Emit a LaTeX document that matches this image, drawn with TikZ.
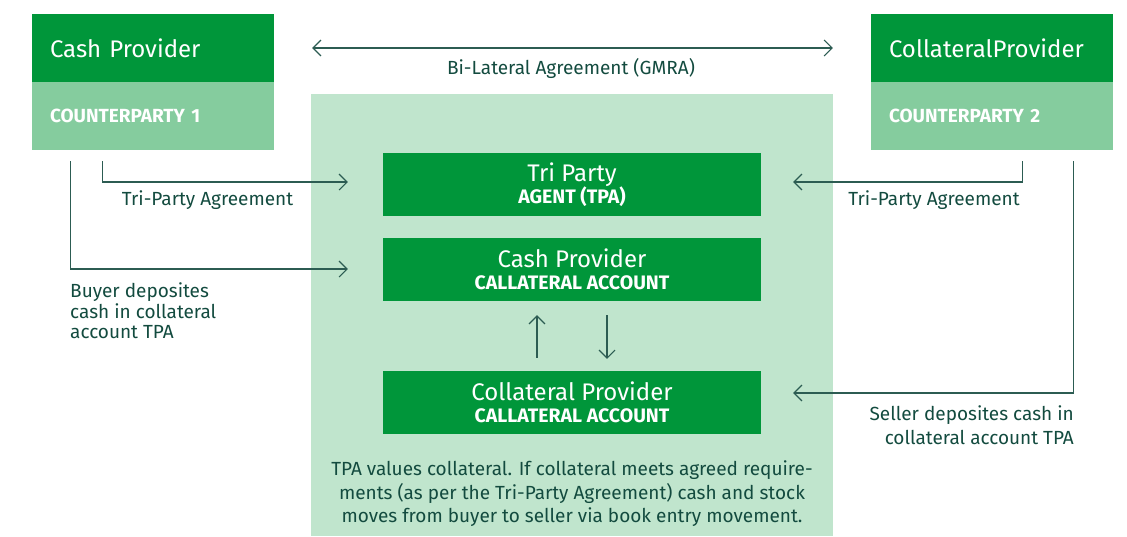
\documentclass[tikz,border=0pt]{standalone}
\usepackage{fontspec}
\setmainfont{Fira Sans}
\usetikzlibrary{arrows.meta,calc}
\definecolor{deepgreen}{HTML}{00963A}
\definecolor{midgreen}{HTML}{85CC9E}
\definecolor{panelgreen}{HTML}{C0E5CD}
\definecolor{inkgreen}{HTML}{134B3F}
\definecolor{linegreen}{HTML}{2C5C52}
\tikzset{
  x=1pt, y=1pt,
  barb/.tip={Straight Barb[length=8pt,width=16pt,line width=1.1pt]},
  headbox/.style={fill=deepgreen, text=white, minimum height=68pt, text width=206pt,
    inner xsep=18pt, inner ysep=0pt, align=left, font=\fontsize{24}{26}\selectfont},
  subbox/.style={fill=midgreen, text=white, minimum height=68pt, text width=206pt,
    inner xsep=18pt, inner ysep=0pt, align=left, font=\fontsize{19}{20}\selectfont\bfseries},
  acctbox/.style={fill=deepgreen, text=white, minimum width=378pt, minimum height=63pt,
    inner sep=0pt, align=center, font=\fontsize{19.5}{22.5}\selectfont},
  flow/.style={draw=linegreen, line width=1.1pt, -barb},
  caption/.style={text=inkgreen, inner sep=0pt, font=\fontsize{19}{20.5}\selectfont},
}
\newcommand{\acct}[2]{{\fontsize{24}{22}\selectfont #1}\\{\bfseries #2}}
\begin{document}
\begin{tikzpicture}
\useasboundingbox (0,0) rectangle (1127,-536);
% central panel
\fill[panelgreen] (311,-94) rectangle (833,-536);

% counterparties
\node[headbox] (cptop) at (153,-48) {Cash Provider};
\node[subbox]  (cpbot) at (153,-116) {COUNTERPARTY 1};
\node[headbox] (cltop) at (992,-48) {CollateralProvider};
\node[subbox]  (clbot) at (992,-116) {COUNTERPARTY 2};

% accounts held by the tri-party agent
\node[acctbox] (tpa)   at (572,-184.5) {\acct{Tri Party}{AGENT (TPA)}};
\node[acctbox] (cpacc) at (572,-269.5) {\acct{Cash Provider}{CALLATERAL ACCOUNT}};
\node[acctbox] (clacc) at (572,-402.5) {\acct{Collateral Provider}{CALLATERAL ACCOUNT}};

% bilateral agreement
\draw[draw=linegreen, line width=1.1pt, barb-barb, shorten <=38pt, shorten >=38pt]
  (cptop.east) -- (cltop.west);
\node[caption] (bilat) at (571,-68) {Bi-Lateral Agreement (GMRA)};

% cash provider side
\coordinate (cpa) at ($(cpbot.south west)+(71,-11)$);
\coordinate (cpb) at ($(cpbot.south west)+(39,-11)$);
\draw[flow] (cpa) |- ($(tpa.west)+(-35,2.5)$);
\draw[flow] (cpb) |- ($(cpacc.west)+(-35,0.5)$);
\node[caption] (tpl) at (207.5,-200) {Tri-Party Agreement};
\node[caption, anchor=west, align=left] (buyer) at (70,-311)
  {Buyer deposites\\cash in collateral\\account TPA};

% collateral provider side
\coordinate (cla) at ($(clbot.south west)+(152,-11)$);
\coordinate (clb) at ($(clbot.south west)+(203,-11)$);
\draw[flow] (cla) |- ($(tpa.east)+(32,2.5)$);
\draw[flow] (clb) |- ($(clacc.east)+(32,9.5)$);
\node[caption] (tpr) at (934,-200) {Tri-Party Agreement};
\node[caption, anchor=east, align=right, font=\fontsize{19}{23.5}\selectfont] (seller) at (1074,-425)
  {Seller deposites cash in\\collateral account TPA};

% movement between the two collateral accounts
\draw[flow, shorten <=13pt, shorten >=14pt] ($(clacc.north)+(-35,0)$) -- ($(cpacc.south)+(-35,0)$);
\draw[flow, shorten <=14pt, shorten >=12pt] ($(cpacc.south)+(35,0)$) -- ($(clacc.north)+(35,0)$);

% note
\node[caption, align=center, font=\fontsize{19}{23.5}\selectfont] (note) at (572,-494)
  {TPA values collateral. If collateral meets agreed require-\\
   ments (as per the Tri-Party Agreement) cash and stock\\
   moves from buyer to seller via book entry movement.};
\end{tikzpicture}
\end{document}
